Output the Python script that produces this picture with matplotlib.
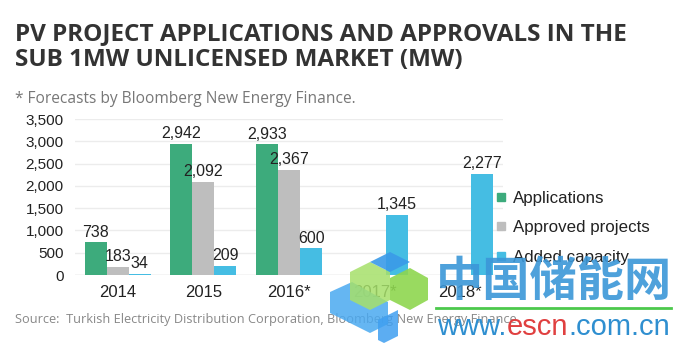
import matplotlib
matplotlib.use("Agg")
import matplotlib.pyplot as plt
import numpy as np
from matplotlib.lines import Line2D
from matplotlib.patches import Polygon

years = ["2014", "2015", "2016*", "2017*", "2018*"]
applications = [738, 2942, 2933, None, None]
approved = [183, 2092, 2367, None, None]
added = [34, 209, 600, 1345, 2277]
series_names = ["Applications", "Approved projects", "Added capacity"]
colors = ["#3dab7c", "#bebebe", "#45bde3"]
yticks = [0, 500, 1000, 1500, 2000, 2500, 3000, 3500]

W, H = 681, 343
fig = plt.figure(figsize=(W / 100, H / 100), dpi=100)
ax = fig.add_axes([0.110, 0.198, 0.629, 0.455])

x = np.arange(len(years))
w = 0.257
for i, vals in enumerate([applications, approved, added]):
    xs = [xi + (i - 1) * w for xi, v in zip(x, vals) if v is not None]
    vs = [v for v in vals if v is not None]
    ax.bar(xs, vs, width=w, color=colors[i], zorder=3)
    for xx, vv in zip(xs, vs):
        ax.text(xx, vv + 60, f"{vv:,}", ha="center", va="bottom",
                fontsize=11.5, family="Liberation Sans", color="#222222", zorder=4)

ax.set_xlim(-0.5, 4.5)
ax.set_ylim(0, 3500)
ax.set_yticks(yticks)
ax.set_yticklabels([f"{t:,}" for t in yticks], family="Liberation Sans", fontsize=11, color="#222222")
ax.set_xticks(x)
ax.set_xticklabels(years, family="Liberation Sans", fontsize=12, color="#222222")
ax.tick_params(axis="y", length=0, pad=8)
ax.tick_params(axis="x", length=0, pad=7)
ax.grid(axis="y", color="#ececec", linewidth=1, zorder=0)
for s in ax.spines.values():
    s.set_visible(False)
ax.axhline(0, color="#e0e0e0", linewidth=1, zorder=2)

handles = [Line2D([], [], marker="s", linestyle="none", markersize=6, color=c) for c in colors]
fig.legend(handles, series_names, loc="center left", bbox_to_anchor=(0.703, 0.336),
           frameon=False, prop={"family": "Liberation Sans", "size": 12.2},
           labelspacing=0.85, handletextpad=0.3, handlelength=0.8, labelcolor="#222222")

fig.text(0.022, 0.862, "PV PROJECT APPLICATIONS AND APPROVALS IN THE\nSUB 1MW UNLICENSED MARKET (MW)",
         fontsize=17.5, fontweight="bold", family="Open Sans", color="#333333",
         va="center", ha="left", linespacing=1.12)
fig.text(0.022, 0.712, "* Forecasts by Bloomberg New Energy Finance.", fontsize=11.2,
         family="Open Sans", color="#777777", va="center")
fig.text(0.022, 0.068, "Source:  Turkish Electricity Distribution Corporation, Bloomberg New Energy Finance",
         fontsize=9.2, family="Open Sans", color="#888888", va="center")

# watermark logo (rough cube shapes)
def px(pts):
    return [(a / W, 1 - b / H) for a, b in pts]

shapes = [
    ([(330, 292), (352, 282), (388, 302), (388, 324), (370, 333), (330, 313)], "#4aa9f0", 0.85),
    ([(350, 272), (370, 262), (390, 272), (390, 300), (370, 310), (350, 300)], "#a6e06a", 0.85),
    ([(390, 278), (410, 268), (428, 278), (428, 300), (410, 310), (390, 300)], "#8ed64f", 0.9),
    ([(370, 262), (390, 252), (410, 262), (390, 272)], "#3a9ae8", 0.9),
    ([(378, 320), (398, 310), (398, 336), (384, 343), (378, 340)], "#3f9ff0", 0.85),
]
for pts, c, a in shapes:
    fig.add_artist(Polygon(px(pts), closed=True, facecolor=c, edgecolor="none", alpha=a, zorder=5))

fig.text(0.64, 0.178, "中国储能网", fontsize=34, fontweight="bold",
         family="Noto Sans CJK SC", color="#3b97d8", alpha=0.9, va="center", ha="left", zorder=6)
fig.add_artist(Line2D([0.64, 0.985], [0.102, 0.102], color="#4cc94c", linewidth=2, zorder=6))
t1 = fig.text(0.642, 0.045, "www.", fontsize=21, family="Liberation Sans", color="#2f8fd0",
              va="center", ha="left", zorder=6)
t2 = fig.text(0, 0, "escn", fontsize=21, family="Liberation Sans", color="#e04040",
              va="baseline", ha="left", zorder=6)
t3 = fig.text(0, 0, ".com.cn", fontsize=21, family="Liberation Sans", color="#2f8fd0",
              va="baseline", ha="left", zorder=6)
fig.canvas.draw()
r = fig.canvas.get_renderer()
b1 = t1.get_window_extent(r)
base = t1.get_transform().transform((0.642, 0.045))[1]
# align following pieces on the same baseline
t1.set_va("baseline")
t1.set_position((0.642, 0.022))
fig.canvas.draw()
b1 = t1.get_window_extent(r)
t2.set_position((b1.x1 / fig.bbox.width, 0.022))
fig.canvas.draw()
b2 = t2.get_window_extent(r)
t3.set_position((b2.x1 / fig.bbox.width, 0.022))

fig.savefig("out.png", dpi=100, facecolor="white")
